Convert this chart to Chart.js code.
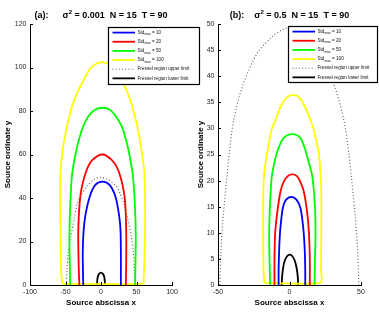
<!DOCTYPE html>
<html>
<head>
<meta charset="utf-8">
<script src="https://cdn.jsdelivr.net/npm/chart.js@4.4.0/dist/chart.umd.min.js"></script>
<style>
html, body { margin: 0; padding: 0; background: #fff; }
#wrap { position: relative; width: 379px; height: 312px; overflow: hidden; }
canvas { position: absolute; top: 0; }
#ca { left: 0; }
#cb { left: 190px; }
</style>
</head>
<body>
<div id="wrap">
  <canvas id="ca" width="210" height="312"></canvas>
  <canvas id="cb" width="189" height="312"></canvas>
</div>
<script>
// values
const stdMax = [10, 20, 50, 100];
const sigmaSq = ['0.001', '0.5'];
const nSources = 15;
const tValue = 90;
const xTicksA = [-100, -50, 0, 50, 100];
const yTicksA = [0, 20, 40, 60, 80, 100, 120];
const xTicksB = [-50, 0, 50];
const yTicksB = [0, 5, 10, 15, 20, 25, 30, 35, 40, 45, 50];

// panel (a) contours [x, y]
const aStd10 = [[-25,0],[-25.5,8],[-25.7,15],[-24.5,25],[-22,32],[-16,40.5],[-8,46],[2,47.5],[12,46],[20.5,40.5],[25.5,32],[27.5,25],[28,15],[28,8],[28,0]];
const aStd20 = [[-30.5,0],[-31.5,10],[-32,25],[-30,38],[-27,45],[-20,53],[-12,57.5],[2,60],[15,57.5],[24,53],[31,45],[34,38],[35.5,25],[35.5,10],[35,0]];
const aStd50 = [[-43.5,0],[-44,10],[-44.5,22],[-43.5,35],[-41,50],[-36,60],[-30,68],[-25,73],[-18,77.5],[-9,80.5],[2,81.5],[13,80.5],[21,77.5],[29,73],[35,67],[40,60],[45,50],[48,35],[49,22],[48.5,10],[48,0]];
const aStd100 = [[-54,0.6],[-55.5,3],[-56.5,10],[-57,25],[-57.5,40],[-57,52],[-54,62],[-48,73],[-41,82],[-34,88],[-28,92],[-20,97],[-13,100.3],[1,102.5],[17,100.3],[24,97],[32,92],[38,88],[45,81],[51,73],[57,62],[61,52],[62,40],[62,25],[61,10],[60,3],[59,0.6],[-54,0.6]];
const aUpper = [[-49,0],[-48,7],[-46,15],[-42.5,22],[-38,30],[-33,37.7],[-26,42.5],[-20,45.2],[-10,48.5],[0,49.5],[10,48.5],[22,45.2],[27,42],[32,37.7],[38,30],[43,22],[45.5,15],[47,7],[47.5,0]];
const aLower = [[-5.5,0],[-5.3,2],[-4.5,3.8],[-3,5],[0,5.7],[3,5],[4.5,3.8],[5.3,2],[5.5,0]];

// panel (b) contours [x, y]
const bStd10 = [[-7.6,0],[-7.6,3],[-7.2,7],[-6.5,10.5],[-4.7,14.7],[-2.5,16.3],[1.4,16.9],[5,16.3],[7.7,14.7],[9.6,11],[10.6,7],[11,3],[11,0]];
const bStd20 = [[-10.5,0],[-10.5,5],[-10,10],[-8.5,14],[-6.3,17.9],[-4,19.8],[-1,20.9],[2,21.2],[5,20.9],[7.5,19.8],[10,17.9],[12.3,14],[13.6,10],[14.2,5],[14.2,0]];
const bStd50 = [[-13.5,0],[-14,5],[-14.2,10],[-13.7,15],[-12.4,20.7],[-10.5,23.5],[-8,26],[-4,28.2],[2.3,28.9],[7.5,28.2],[10.5,26.3],[13,24],[16,20.7],[17.8,15],[18.2,10],[17.8,5],[17.5,0]];
const bStd100 = [[-17.5,0.4],[-18.2,3],[-18.4,10],[-18.3,18],[-17.5,22],[-15.6,25.2],[-12.6,29.7],[-9.8,31.6],[-6,34.3],[-2,35.9],[2.3,36.4],[7,35.9],[11,34],[14.7,31.6],[17,29.7],[20.5,25.2],[21.7,21],[22.2,18],[22.2,10],[22,3],[21.5,0.4],[-17.5,0.4]];
const bUpper = [[-48.7,0],[-48,6],[-46.4,13],[-42,25.5],[-39,31.6],[-33,38],[-22.6,44.4],[-12,47.6],[-5,48.9],[0,49.3],[8,48.7],[16,46.5],[24,42.5],[31,38.5],[38,31.6],[41.5,25.2],[46,13],[47.8,6],[48.5,0]];
const bLower = [[-5.5,0],[-5.2,1.5],[-4.5,3.2],[-3,4.9],[0.2,5.8],[3.3,4.9],[5,3.2],[5.8,1.5],[6,0]];

const FONT = "'Liberation Sans', Arial, sans-serif";

function makeSet(pts, color, width, dash) {
    return {
        data: pts.map(p => ({ x: p[0], y: p[1] })),
        borderColor: color,
        borderWidth: width,
        borderDash: dash || [],
        showLine: true,
        pointRadius: 0,
        tension: 0.3,
        clip: false,
        fill: false
    };
}

// inward tick marks like the original
const inwardTicks = {
    id: 'inwardTicks',
    afterDraw(chart) {
        const ctx = chart.ctx, ca = chart.chartArea;
        const xs = chart.scales.x, ys = chart.scales.y;
        ctx.save();
        ctx.strokeStyle = '#000';
        ctx.lineWidth = 1;
        ctx.beginPath();
        xs.ticks.forEach(t => {
            const px = Math.round(xs.getPixelForValue(t.value)) + 0.5;
            ctx.moveTo(px, ca.bottom);
            ctx.lineTo(px, ca.bottom - 3);
        });
        ys.ticks.forEach(t => {
            const py = Math.round(ys.getPixelForValue(t.value)) + 0.5;
            ctx.moveTo(ca.left, py);
            ctx.lineTo(ca.left + 3, py);
        });
        ctx.stroke();
        ctx.restore();
    }
};

// title with superscript and legend with subscripts
const panelDeco = {
    id: 'panelDeco',
    afterDraw(chart, args, o) {
        const ctx = chart.ctx, ca = chart.chartArea;
        ctx.save();
        // title
        const big = 'bold 9px ' + FONT, sup = 'bold 6px ' + FONT;
        const rest = ' = ' + o.sigma + '  N = ' + nSources + '  T = ' + tValue;
        ctx.font = big;
        const wTag = ctx.measureText(o.tag).width;
        const wSig = ctx.measureText('\u03c3').width;
        const wRest = ctx.measureText(rest).width;
        ctx.font = sup;
        const wSup = ctx.measureText('2').width;
        let x = (ca.left + ca.right) / 2 - (wTag + o.gap + wSig + wSup + wRest) / 2;
        const base = 17.5;
        ctx.fillStyle = '#000';
        ctx.textBaseline = 'alphabetic';
        ctx.font = big;
        ctx.fillText(o.tag, x, base); x += wTag + o.gap;
        ctx.fillText('\u03c3', x, base); x += wSig;
        ctx.font = sup;
        ctx.fillText('2', x, base - 4); x += wSup;
        ctx.font = big;
        ctx.fillText(rest, x, base);

        // legend
        const b = o.box;
        ctx.fillStyle = '#fff';
        ctx.fillRect(b.x, b.y, b.w, b.h);
        ctx.strokeStyle = '#000';
        ctx.lineWidth = 1.2;
        ctx.strokeRect(b.x + 0.5, b.y + 0.5, b.w, b.h);
        chart.data.datasets.forEach((ds, i) => {
            const y = b.y + 5.6 + i * 9.15;
            ctx.strokeStyle = ds.borderColor;
            ctx.lineWidth = ds.borderDash.length ? 1 : 1.8;
            ctx.setLineDash(ds.borderDash);
            ctx.beginPath();
            ctx.moveTo(b.x + 4.5, y);
            ctx.lineTo(b.x + 27, y);
            ctx.stroke();
            ctx.setLineDash([]);
            ctx.fillStyle = '#111';
            ctx.textBaseline = 'middle';
            let tx = b.x + 29.5;
            ctx.font = '4.6px ' + FONT;
            if (ds.sub) {
                ctx.fillText(ds.label, tx, y);
                tx += ctx.measureText(ds.label).width;
                ctx.font = '3.4px ' + FONT;
                ctx.fillText(ds.sub, tx, y + 1.8);
                tx += ctx.measureText(ds.sub).width;
                ctx.font = '4.6px ' + FONT;
                ctx.fillText(ds.tail, tx, y);
            } else {
                ctx.fillText(ds.label, tx, y);
            }
        });
        ctx.restore();
    }
};

function makePanel(id, sets, xTicks, yTicks, deco, yWidth, padRight, yTitlePad) {
    const labels = stdMax.map(v => ({ label: 'Std', sub: 'max', tail: ' = ' + v }));
    const colors = ['#0000ff', '#ff0000', '#00ff00', '#ffff00'];
    const datasets = [];
    for (let i = 0; i < 4; i++) {
        datasets.push(Object.assign(makeSet(sets[i], colors[i], 1.8), labels[i]));
    }
    datasets.push(Object.assign(makeSet(sets[4], '#5a5a5a', 1.1, [1, 2.2]), { label: 'Fresnel region upper limit' }));
    datasets.push(Object.assign(makeSet(sets[5], '#000000', 1.8), { label: 'Fresnel region lower limit' }));

    const tickFont = { family: FONT, size: 7 };
    const titleFont = { family: FONT, size: 8, weight: 'bold' };

    return new Chart(document.getElementById(id), {
        type: 'scatter',
        data: { datasets: datasets },
        options: {
            responsive: false,
            animation: false,
            devicePixelRatio: 1,
            layout: { padding: { top: 24, right: padRight, left: 0, bottom: 0 } },
            plugins: {
                legend: { display: false },
                tooltip: { enabled: false },
                panelDeco: deco
            },
            scales: {
                x: {
                    type: 'linear',
                    min: xTicks[0],
                    max: xTicks[xTicks.length - 1],
                    afterBuildTicks: s => { s.ticks = xTicks.map(v => ({ value: v })); },
                    afterFit: s => { s.height = 27; },
                    grid: { display: false, drawTicks: false },
                    border: { display: true, color: '#000', width: 1 },
                    ticks: { font: tickFont, color: '#262626', padding: 3, maxRotation: 0 },
                    title: { display: true, text: 'Source abscissa x', font: titleFont, color: '#000', padding: { top: 0, bottom: 4 } }
                },
                y: {
                    type: 'linear',
                    min: yTicks[0],
                    max: yTicks[yTicks.length - 1],
                    afterBuildTicks: s => { s.ticks = yTicks.map(v => ({ value: v })); },
                    afterFit: s => { s.width = yWidth; },
                    grid: { display: false, drawTicks: false },
                    border: { display: true, color: '#000', width: 1 },
                    ticks: { font: tickFont, color: '#262626', padding: 3.5 },
                    title: { display: true, text: 'Source ordinate y', font: titleFont, color: '#000', padding: { top: yTitlePad, bottom: 0 } }
                }
            }
        },
        plugins: [inwardTicks, panelDeco]
    });
}

makePanel('ca', [aStd10, aStd20, aStd50, aStd100, aUpper, aLower], xTicksA, yTicksA,
    { tag: '(a):', gap: 14, sigma: sigmaSq[0], box: { x: 108, y: 27, w: 91, h: 57 } }, 30, 38, 2.7);
makePanel('cb', [bStd10, bStd20, bStd50, bStd100, bUpper, bLower], xTicksB, yTicksB,
    { tag: '(b):', gap: 10, sigma: sigmaSq[1], box: { x: 98, y: 26, w: 89, h: 56 } }, 28, 18, 6);
</script>
</body>
</html>
